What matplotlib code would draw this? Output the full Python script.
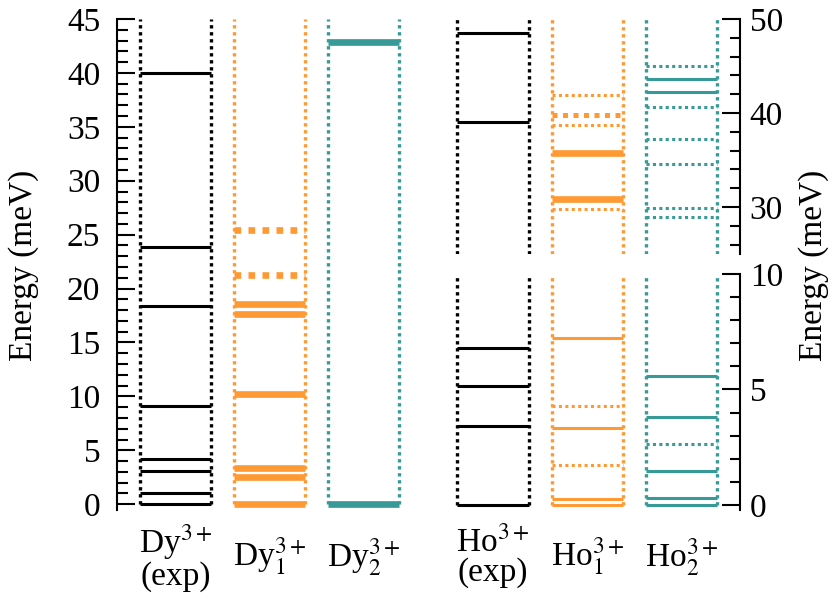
import matplotlib
matplotlib.use("Agg")
import matplotlib.pyplot as plt
from matplotlib.ticker import MultipleLocator
from matplotlib.transforms import blended_transform_factory

plt.rcParams["font.family"] = ["Liberation Serif", "DejaVu Serif"]
plt.rcParams["mathtext.fontset"] = "stix"
plt.rcParams["font.size"] = 24

# Crystal-field levels (meV)
dy_exp = [0.0, 1.0, 3.1, 4.2, 9.1, 18.4, 23.9, 40.0]
dy1_solid = [0.0, 2.5, 3.4, 10.2, 17.6, 18.6]
dy1_dotted = [21.3, 25.4]
dy2_solid = [0.0, 42.9]

ho_exp = [0.0, 3.4, 5.15, 6.8, 39.0, 48.5]
ho1_solid = [0.0, 0.28, 3.34, 7.22]
ho1_solid_thick = [30.8, 35.7]
ho1_dotted = [1.71, 4.3, 29.8, 38.7, 41.9]
ho1_dotted_thick = [39.8]
ho2_solid = [0.0, 0.32, 1.47, 3.82, 5.58, 42.2, 43.6]
ho2_dotted = [2.63, 28.9, 29.9, 34.6, 37.2, 40.6, 45.0]

dy_labels = ["Dy$^{3+}$\n(exp)", "Dy$_1^{3+}$", "Dy$_2^{3+}$"]
ho_labels = ["Ho$^{3+}$\n(exp)", "Ho$_1^{3+}$", "Ho$_2^{3+}$"]

BLACK = "#000000"
ORANGE = "#ff9933"
TEAL = "#379a96"
col_colors = [BLACK, ORANGE, TEAL]

HALF = 0.379
DOT = (0, (1, 1.1))
LW_THIN = 2.2
LW_THICK = 4.8
LW_EDGE = 2.4

fig = plt.figure(figsize=(8.34, 5.97), dpi=100)
W, H = 834.0, 597.0


def px_axes(left, top, right, bottom):
    return fig.add_axes([left / W, 1 - bottom / H, (right - left) / W, (bottom - top) / H])


ax_dy = px_axes(117, 19, 422, 509.6)
ax_ho_top = px_axes(434.5, 19, 740, 254)
ax_ho_bot = px_axes(434.5, 274, 740, 509.6)

ax_dy.set_ylim(-0.5, 45)
ax_ho_top.set_ylim(25, 50)
ax_ho_bot.set_ylim(-0.2, 10)
for ax in (ax_dy, ax_ho_top, ax_ho_bot):
    ax.set_xlim(-0.62, 2.62)
    ax.set_xticks([])
    ax.patch.set_alpha(0)
    for s in ("top", "bottom"):
        ax.spines[s].set_visible(False)


def columns(ax, ymin, ymax):
    for i, c in enumerate(col_colors):
        ln = ax.vlines([i - HALF, i + HALF], ymin, ymax, colors=c,
                       linewidths=LW_EDGE, linestyles=DOT, zorder=1)
        ln.set_capstyle("butt")


def levels(ax, x, energies, color, lw, dotted=False):
    if not energies:
        return
    lc = ax.hlines(energies, x - HALF, x + HALF, colors=color, linewidths=lw,
                   linestyles=DOT if dotted else "solid", zorder=3, clip_on=False)
    lc.set_capstyle("butt")


# Dy panel
columns(ax_dy, 0, 45)
levels(ax_dy, 0, dy_exp, BLACK, LW_THIN)
levels(ax_dy, 1, dy1_solid, ORANGE, LW_THICK)
levels(ax_dy, 1, dy1_dotted, ORANGE, LW_THICK, dotted=True)
levels(ax_dy, 2, dy2_solid, TEAL, LW_THICK)

# Ho panels (broken energy axis)
columns(ax_ho_top, 25, 50)
columns(ax_ho_bot, 0, 10)
for ax, lo, hi in ((ax_ho_top, 25, 50), (ax_ho_bot, -0.2, 10)):
    def sel(v):
        return [e for e in v if lo <= e <= hi]
    levels(ax, 0, sel(ho_exp), BLACK, LW_THIN)
    levels(ax, 1, sel(ho1_solid), ORANGE, LW_THIN)
    levels(ax, 1, sel(ho1_solid_thick), ORANGE, LW_THICK)
    levels(ax, 1, sel(ho1_dotted), ORANGE, LW_THIN, dotted=True)
    levels(ax, 1, sel(ho1_dotted_thick), ORANGE, 3.6, dotted=True)
    levels(ax, 2, sel(ho2_solid), TEAL, LW_THIN)
    levels(ax, 2, sel(ho2_dotted), TEAL, LW_THIN, dotted=True)

# Axes styling
ax_dy.spines["right"].set_visible(False)
ax_dy.spines["left"].set_linewidth(1.5)
ax_dy.yaxis.set_major_locator(MultipleLocator(5))
ax_dy.yaxis.set_minor_locator(MultipleLocator(1))
ax_dy.tick_params(axis="y", which="both", direction="in", left=True, right=False,
                  width=1.5, pad=12)
ax_dy.tick_params(axis="y", which="major", length=13)
ax_dy.tick_params(axis="y", which="minor", length=8)

for ax in (ax_ho_top, ax_ho_bot):
    ax.spines["left"].set_visible(False)
    ax.spines["right"].set_linewidth(1.5)
    ax.yaxis.tick_right()
    ax.tick_params(axis="y", which="both", direction="in", left=False, right=True,
                   labelleft=False, labelright=True, width=1.5, pad=7)
    ax.tick_params(axis="y", which="major", length=13)
    ax.tick_params(axis="y", which="minor", length=7)

ax_ho_top.set_yticks([30, 40, 50])
ax_ho_top.set_yticks(list(range(26, 50, 2)), minor=True)
ax_ho_bot.set_yticks([0, 5, 10])
ax_ho_bot.set_yticks(list(range(0, 11)), minor=True)

# Column labels
for ax, labs in ((ax_dy, dy_labels), (ax_ho_bot, ho_labels)):
    tr = blended_transform_factory(ax.transData, fig.transFigure)
    for i, lab in enumerate(labs):
        ax.text(i, 1 - 557 / H, lab, transform=tr, ha="center", va="center",
                multialignment="center", linespacing=0.95)

fig.text(24 / W, 1 - 265 / H, "Energy (meV)", rotation=90, ha="center", va="center")
fig.text(814 / W, 1 - 265 / H, "Energy (meV)", rotation=90, ha="center", va="center")

fig.savefig("out.png", dpi=100)
